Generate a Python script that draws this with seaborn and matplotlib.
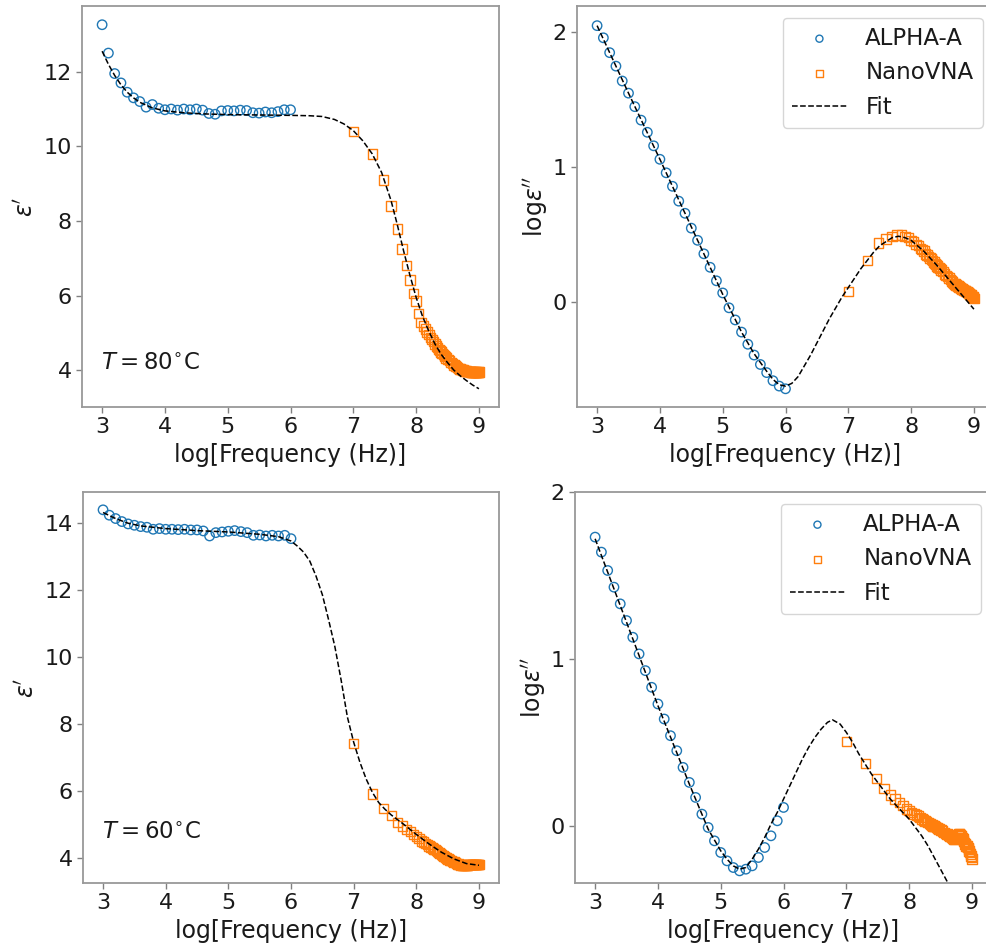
import numpy as np
import matplotlib
matplotlib.use("Agg")
import matplotlib.pyplot as plt
import seaborn as sns

# log10 frequency of ALPHA-A points, NanoVNA frequencies in MHz
alpha_logf = [3.0, 3.1, 3.2, 3.3, 3.4, 3.5, 3.6, 3.7, 3.8, 3.9, 4.0,
              4.1, 4.2, 4.3, 4.4, 4.5, 4.6, 4.7, 4.8, 4.9, 5.0,
              5.1, 5.2, 5.3, 5.4, 5.5, 5.6, 5.7, 5.8, 5.9, 6.0]
nano_mhz = [10, 20, 30, 40, 50, 60, 70, 80, 90, 100,
            110, 120, 130, 140, 150, 160, 170, 180, 190, 200,
            210, 220, 230, 240, 250, 260, 270, 280, 290, 300,
            320, 340, 360, 380, 400, 420, 440, 460, 480, 500,
            520, 540, 560, 580, 600, 620, 640, 660, 680, 700,
            720, 740, 760, 780, 800, 820, 840, 860, 880, 900,
            920, 940, 960, 980, 1000]

# T = 80 C, real part
alpha_eps1_80 = [13.26, 12.50, 11.95, 11.70, 11.45, 11.30, 11.20, 11.05, 11.12, 11.02, 10.98,
                 11.00, 10.97, 11.00, 10.98, 11.00, 10.97, 10.88, 10.86, 10.95, 10.96,
                 10.95, 10.97, 10.96, 10.90, 10.89, 10.92, 10.90, 10.93, 10.98, 10.98]
nano_eps1_80 = [10.40, 9.79, 9.10, 8.40, 7.78, 7.25, 6.80, 6.42, 6.05, 5.85,
                5.52, 5.28, 5.18, 5.10, 5.02, 4.95, 4.88, 4.82, 4.76, 4.70,
                4.65, 4.60, 4.56, 4.52, 4.48, 4.45, 4.42, 4.39, 4.36, 4.33,
                4.29, 4.25, 4.21, 4.17, 4.14, 4.11, 4.09, 4.07, 4.05, 4.03,
                4.02, 4.01, 4.00, 3.99, 3.98, 3.98, 3.97, 3.97, 3.96, 3.96,
                3.96, 3.95, 3.95, 3.95, 3.95, 3.94, 3.95, 3.94, 3.95, 3.94,
                3.95, 3.94, 3.95, 3.94, 3.95]
fit_x_eps1_80 = [3.0, 3.1, 3.2, 3.3, 3.4, 3.5, 3.6, 3.8, 4.0, 4.3, 4.6, 5.0, 5.5, 6.0,
                 6.3, 6.5, 6.7, 6.85, 7.0, 7.15, 7.3, 7.45, 7.6, 7.7, 7.8, 7.9, 8.0,
                 8.1, 8.2, 8.3, 8.4, 8.5, 8.6, 8.7, 8.8, 8.9, 9.0]
fit_eps1_80 = [12.55, 12.20, 11.90, 11.65, 11.45, 11.30, 11.18, 11.03, 10.95, 10.90, 10.87,
               10.85, 10.84, 10.83, 10.82, 10.80, 10.72, 10.60, 10.42, 10.15, 9.80, 9.30,
               8.55, 7.90, 7.20, 6.55, 5.95, 5.45, 5.05, 4.70, 4.42, 4.20, 4.00, 3.85,
               3.72, 3.60, 3.50]

# T = 80 C, log imaginary part
alpha_leps2_80 = [2.05, 1.96, 1.85, 1.75, 1.64, 1.55, 1.45, 1.35, 1.26, 1.16, 1.06,
                  0.96, 0.86, 0.75, 0.66, 0.55, 0.46, 0.36, 0.26, 0.16, 0.07,
                  -0.04, -0.13, -0.22, -0.31, -0.39, -0.46, -0.52, -0.58, -0.62, -0.64]
nano_leps2_80 = [0.08, 0.31, 0.44, 0.47, 0.49, 0.50, 0.50, 0.49, 0.48, 0.46,
                 0.45, 0.43, 0.42, 0.40, 0.39, 0.38, 0.36, 0.35, 0.34, 0.33,
                 0.32, 0.31, 0.30, 0.29, 0.28, 0.27, 0.26, 0.26, 0.25, 0.24,
                 0.23, 0.21, 0.20, 0.19, 0.18, 0.17, 0.16, 0.15, 0.14, 0.135,
                 0.13, 0.125, 0.12, 0.115, 0.11, 0.105, 0.10, 0.10, 0.095, 0.09,
                 0.09, 0.085, 0.08, 0.08, 0.075, 0.07, 0.065, 0.06, 0.06, 0.055,
                 0.05, 0.045, 0.04, 0.035, 0.03]
fit_x_leps2_80 = [3.0, 3.5, 4.0, 4.5, 5.0, 5.3, 5.5, 5.7, 5.8, 5.9, 6.0, 6.1, 6.2, 6.3,
                  6.4, 6.5, 6.6, 6.7, 6.8, 6.9, 7.0, 7.1, 7.2, 7.3, 7.4, 7.5, 7.6, 7.7,
                  7.8, 7.9, 8.0, 8.2, 8.4, 8.6, 8.8, 9.0]
fit_leps2_80 = [2.05, 1.55, 1.06, 0.56, 0.06, -0.22, -0.38, -0.51, -0.57, -0.61, -0.62,
                -0.60, -0.55, -0.47, -0.39, -0.30, -0.21, -0.12, -0.04, 0.04, 0.11, 0.18,
                0.25, 0.31, 0.37, 0.42, 0.45, 0.48, 0.49, 0.48, 0.46, 0.38, 0.28, 0.17,
                0.06, -0.05]

# T = 60 C, real part
alpha_eps1_60 = [14.38, 14.22, 14.12, 14.03, 13.96, 13.92, 13.88, 13.86, 13.80, 13.82, 13.80,
                 13.80, 13.79, 13.80, 13.78, 13.78, 13.75, 13.60, 13.70, 13.72, 13.74,
                 13.76, 13.73, 13.70, 13.62, 13.63, 13.60, 13.62, 13.60, 13.62, 13.52]
nano_eps1_60 = [7.42, 5.91, 5.47, 5.27, 5.05, 4.95, 4.85, 4.78, 4.70, 4.63,
                4.57, 4.51, 4.47, 4.43, 4.40, 4.36, 4.33, 4.30, 4.27, 4.25,
                4.22, 4.19, 4.16, 4.13, 4.10, 4.08, 4.06, 4.04, 4.02, 4.00,
                3.97, 3.94, 3.92, 3.90, 3.88, 3.86, 3.84, 3.82, 3.81, 3.80,
                3.79, 3.78, 3.78, 3.78, 3.78, 3.78, 3.79, 3.79, 3.80, 3.80,
                3.80, 3.81, 3.81, 3.81, 3.81, 3.80, 3.81, 3.80, 3.81, 3.81,
                3.80, 3.81, 3.80, 3.80, 3.80]
fit_x_eps1_60 = [3.0, 3.2, 3.4, 3.6, 4.0, 4.5, 5.0, 5.5, 5.8, 6.0, 6.1, 6.2, 6.3, 6.4,
                 6.5, 6.6, 6.7, 6.8, 6.9, 7.0, 7.1, 7.2, 7.3, 7.4, 7.5, 7.6, 7.8, 8.0,
                 8.2, 8.4, 8.6, 8.8, 9.0]
fit_eps1_60 = [14.30, 14.12, 13.98, 13.90, 13.82, 13.76, 13.72, 13.65, 13.58, 13.45, 13.30,
               13.12, 12.85, 12.40, 11.85, 11.10, 10.30, 9.30, 8.20, 7.45, 6.85, 6.35,
               5.95, 5.65, 5.45, 5.28, 5.00, 4.70, 4.42, 4.17, 3.97, 3.83, 3.78]

# T = 60 C, log imaginary part
alpha_leps2_60 = [1.73, 1.64, 1.53, 1.43, 1.33, 1.23, 1.13, 1.03, 0.93, 0.83, 0.73,
                  0.64, 0.54, 0.45, 0.35, 0.26, 0.17, 0.07, -0.01, -0.09, -0.16,
                  -0.21, -0.25, -0.27, -0.26, -0.24, -0.19, -0.13, -0.06, 0.03, 0.11]
nano_leps2_60 = [0.505, 0.375, 0.285, 0.225, 0.185, 0.16, 0.14, 0.12, 0.10, 0.09,
                 0.08, 0.07, 0.065, 0.06, 0.05, 0.04, 0.035, 0.03, 0.025, 0.02,
                 0.015, 0.01, 0.005, 0.0, 0.0, -0.005, -0.01, -0.01, -0.015, -0.02,
                 -0.025, -0.03, -0.04, -0.045, -0.05, -0.055, -0.06, -0.065, -0.07, -0.075,
                 -0.08, -0.08, -0.075, -0.07, -0.06, -0.05, -0.05, -0.055, -0.06, -0.07,
                 -0.08, -0.09, -0.10, -0.11, -0.12, -0.12, -0.12, -0.13, -0.14, -0.15,
                 -0.16, -0.17, -0.18, -0.19, -0.20]
fit_x_leps2_60 = [3.0, 3.5, 4.0, 4.5, 4.8, 5.0, 5.1, 5.2, 5.3, 5.4, 5.5, 5.6, 5.7, 5.8,
                  5.9, 6.0, 6.1, 6.2, 6.3, 6.4, 6.5, 6.6, 6.7, 6.78, 6.9, 7.0, 7.1, 7.2,
                  7.3, 7.4, 7.5, 7.6, 7.7, 7.8, 7.9, 8.0, 8.1, 8.2, 8.3, 8.4, 8.5, 8.6, 8.7]
fit_leps2_60 = [1.72, 1.22, 0.72, 0.25, -0.02, -0.15, -0.20, -0.24, -0.26, -0.25, -0.20,
                -0.14, -0.07, 0.01, 0.08, 0.16, 0.24, 0.32, 0.40, 0.47, 0.53, 0.58, 0.62,
                0.635, 0.61, 0.56, 0.50, 0.43, 0.37, 0.31, 0.26, 0.21, 0.16, 0.12, 0.08,
                0.04, -0.01, -0.06, -0.12, -0.19, -0.26, -0.33, -0.41]

sns.set_style("ticks")
plt.rcParams["font.family"] = ["DejaVu Sans"]
plt.rcParams["mathtext.fontset"] = "dejavusans"
plt.rcParams["axes.edgecolor"] = "0.6"
plt.rcParams["axes.linewidth"] = 1.3
plt.rcParams["xtick.color"] = "0.5"
plt.rcParams["ytick.color"] = "0.5"
plt.rcParams["xtick.labelcolor"] = "0.1"
plt.rcParams["ytick.labelcolor"] = "0.1"
plt.rcParams["text.color"] = "0.1"
plt.rcParams["axes.labelcolor"] = "0.1"

blue = "#1f77b4"
orange = "#ff7f0e"
nano_logf = np.log10(np.array(nano_mhz) * 1e6)

fig, axes = plt.subplots(2, 2, figsize=(9.87, 9.49), dpi=100)
positions = [[0.0831, 0.5711, 0.4225, 0.4225], [0.5846, 0.5711, 0.4225, 0.4225],
             [0.0841, 0.0695, 0.4215, 0.412], [0.5826, 0.0695, 0.4225, 0.412]]

panels = [
    (alpha_eps1_80, nano_eps1_80, fit_x_eps1_80, fit_eps1_80),
    (alpha_leps2_80, nano_leps2_80, fit_x_leps2_80, fit_leps2_80),
    (alpha_eps1_60, nano_eps1_60, fit_x_eps1_60, fit_eps1_60),
    (alpha_leps2_60, nano_leps2_60, fit_x_leps2_60, fit_leps2_60),
]

for i, (ax, (a_y, n_y, f_x, f_y)) in enumerate(zip(axes.flat, panels)):
    ax.set_position(positions[i])
    sc1 = ax.scatter(alpha_logf, a_y, marker="o", s=46, facecolors="none",
                     edgecolors=blue, linewidths=1.0, label="ALPHA-A")
    sc2 = ax.scatter(nano_logf, n_y, marker="s", s=46, facecolors="none",
                     edgecolors=orange, linewidths=1.0, label="NanoVNA")
    sns.lineplot(x=f_x, y=f_y, ax=ax, color="black", linestyle="--", linewidth=1.1,
                 sort=False, estimator=None, label="Fit", legend=False)
    ax.set_xlim(2.68, 9.32)
    ax.set_xticks([3, 4, 5, 6, 7, 8, 9])
    ax.tick_params(labelsize=16, length=4, width=1)
    ax.set_xlabel("log[Frequency (Hz)]", fontsize=17)
    if i % 2 == 0:
        ax.set_ylabel(r"$\varepsilon'$", fontsize=17, labelpad=4)
    else:
        ax.set_ylabel(r"log$\varepsilon''$", fontsize=17, labelpad=2)
        ax.set_yticks([0, 1, 2])
        line = ax.get_lines()[0]
        ax.legend(handles=[sc1, sc2, line], labels=["ALPHA-A", "NanoVNA", "Fit"],
                  loc="upper right", fontsize=16.5, markerscale=0.75,
                  handlelength=2.4, borderaxespad=0.5)

axes[0, 0].set_yticks([4, 6, 8, 10, 12])
axes[0, 0].set_ylim(3.01, 13.76)
axes[0, 1].set_ylim(-0.775, 2.195)
axes[1, 0].set_yticks([4, 6, 8, 10, 12, 14])
axes[1, 0].set_ylim(3.25, 14.91)
axes[1, 1].set_ylim(-0.343, 2.0)

axes[0, 0].text(0.045, 0.11, r"$T = 80^{\circ}$C", transform=axes[0, 0].transAxes,
                fontsize=16.5, va="center")
axes[1, 0].text(0.045, 0.13, r"$T = 60^{\circ}$C", transform=axes[1, 0].transAxes,
                fontsize=16.5, va="center")

fig.savefig("out.png", dpi=100)
